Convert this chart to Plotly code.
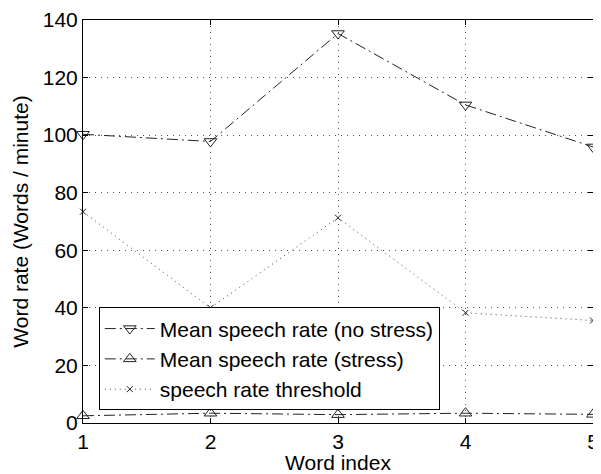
import plotly.graph_objects as go

word_index = [1, 2, 3, 4, 5]
no_stress = [100.3, 97.8, 135.3, 110.5, 95.9]
stress = [2.5, 3.4, 2.9, 3.4, 3.0]
threshold = [73.4, 40.0, 71.3, 38.3, 35.6]
x_ticks = [1, 2, 3, 4, 5]
y_ticks = [0, 20, 40, 60, 80, 100, 120, 140]

FONT = "Liberation Sans, Arial, Helvetica, sans-serif"
LINE_COL = "#222222"
FS = 21

fig = go.Figure()
fig.add_trace(go.Scatter(
    x=word_index, y=no_stress, mode="lines+markers", cliponaxis=False,
    name="Mean speech rate (no stress)",
    line=dict(color=LINE_COL, width=1, dash="11px,4px,2px,4px"),
    marker=dict(symbol="triangle-down-open", size=11, color=LINE_COL, line=dict(width=1)),
))
fig.add_trace(go.Scatter(
    x=word_index, y=stress, mode="lines+markers", cliponaxis=False,
    name="Mean speech rate (stress)",
    line=dict(color=LINE_COL, width=1, dash="11px,4px,2px,4px"),
    marker=dict(symbol="triangle-up-open", size=11, color=LINE_COL, line=dict(width=1)),
))
fig.add_trace(go.Scatter(
    x=word_index, y=threshold, mode="lines+markers", cliponaxis=False,
    name="speech rate threshold",
    line=dict(color="#444444", width=1, dash="1px,4px"),
    marker=dict(symbol="x-thin-open", size=6, color=LINE_COL, line=dict(width=1, color=LINE_COL)),
))

axis_common = dict(
    showline=True, linecolor="black", linewidth=1, mirror="ticks",
    ticks="inside", ticklen=5, tickcolor="black",
    showgrid=True, gridcolor="#555555", griddash="1px,5px", gridwidth=1,
    zeroline=False, tickfont=dict(size=FS, color="black", family=FONT),
    automargin=False, ticklabeloverflow="allow",
)

fig.update_xaxes(range=[1, 5], tickvals=x_ticks, ticktext=[str(v) for v in x_ticks],
                 title=dict(text="Word index", font=dict(size=FS, color="black", family=FONT), standoff=0),
                 **axis_common)
fig.update_yaxes(range=[0, 140], tickvals=y_ticks, ticktext=[str(v) for v in y_ticks],
                 title=dict(text="Word rate (Words / minute)", font=dict(size=FS, color="black", family=FONT), standoff=8),
                 **axis_common)

# page body has an 8px margin, so the figure is 8px smaller and shifted
fig.update_layout(
    width=593, height=466,
    margin=dict(l=75, r=8, t=12, b=51, autoexpand=False),
    paper_bgcolor="white", plot_bgcolor="white",
    font=dict(family=FONT, size=FS, color="black"),
    legend=dict(
        x=0.031, y=0.159, xanchor="left", yanchor="middle",
        bgcolor="white", bordercolor="black", borderwidth=1,
        font=dict(size=FS, color="black", family=FONT),
        itemwidth=50, tracegroupgap=0,
    ),
    showlegend=True,
)

fig.write_html("out.html")
